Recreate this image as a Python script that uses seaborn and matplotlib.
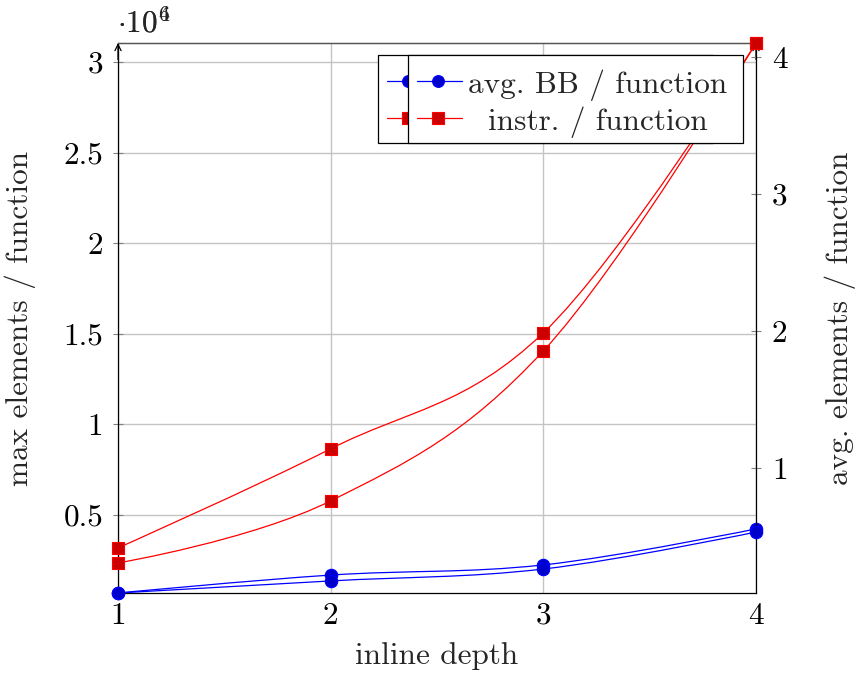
import numpy as np
import matplotlib
matplotlib.use("Agg")
import matplotlib.pyplot as plt
from matplotlib.path import Path
from matplotlib.patches import PathPatch, Rectangle
from matplotlib.lines import Line2D
import seaborn as sns

sns.set_style("white")
plt.rcParams["font.family"] = ["cmr10"]
plt.rcParams["mathtext.fontset"] = "cm"
plt.rcParams["axes.formatter.use_mathtext"] = True
plt.rcParams["axes.unicode_minus"] = False

# inline depth on the x axis
depth = [1, 2, 3, 4]

# left axis: maximum per function (x 10^4)
max_bb = [0.069, 0.168, 0.224, 0.423]
max_instr = [0.318, 0.865, 1.505, 3.105]

# right axis: average per function
avg_bb = [0.088, 0.176, 0.263, 0.533]
avg_instr = [0.307, 0.760, 1.854, 4.100]

left_ticks = [0.5, 1, 1.5, 2, 2.5, 3]
right_ticks = [1, 2, 3, 4]
x_ticks = [1, 2, 3, 4]
legend_labels = ["avg. BB / function", "instr. / function"]

BLUE, BLUE_FILL = (0, 0, 1), (0, 0, 0.8)
RED, RED_FILL = (1, 0, 0), (0.8, 0, 0)
FS = 22.5

W, H = 858, 673
fig = plt.figure(figsize=(W / 100, H / 100), dpi=100)
L, R, T, B = 118, 756, 43, 593
ax1 = fig.add_axes([L / W, (H - B) / H, (R - L) / W, (B - T) / H])
ax2 = ax1.twinx()
ax2.patch.set_visible(False)


def smooth_path(xs, ys, tension=0.55):
    """Cubic Bezier through the points, like TikZ 'smooth'."""
    p = np.column_stack([xs, ys]).astype(float)
    k = tension / 3.0
    verts = [p[0]]
    codes = [Path.MOVETO]
    n = len(p)
    for i in range(n - 1):
        c1 = p[i] + k * (p[i + 1] - p[i - 1]) if i > 0 else p[i]
        c2 = p[i + 1] - k * (p[i + 2] - p[i]) if i + 1 < n - 1 else p[i + 1]
        verts += [c1, c2, p[i + 1]]
        codes += [Path.CURVE4] * 3
    return Path(verts, codes)


def draw_series(ax, ys, line_color, fill_color, marker):
    ax.add_patch(PathPatch(smooth_path(depth, ys), fill=False,
                           edgecolor=line_color, lw=0.9, zorder=3))
    sns.scatterplot(x=depth, y=ys, ax=ax, marker=marker, s=80,
                    color=fill_color, edgecolor=line_color, linewidth=0.8,
                    zorder=4, clip_on=False, legend=False)


draw_series(ax1, max_bb, BLUE, BLUE_FILL, "o")
draw_series(ax1, max_instr, RED, RED_FILL, "s")
draw_series(ax2, avg_bb, BLUE, BLUE_FILL, "o")
draw_series(ax2, avg_instr, RED, RED_FILL, "s")

ax1.set_xlim(1, 4)
ax1.set_ylim(min(max_bb + max_instr), max(max_bb + max_instr))
ax2.set_ylim(min(avg_bb + avg_instr), max(avg_bb + avg_instr))

ax1.set_xticks(x_ticks)
ax1.set_xticklabels([f"{v:g}" for v in x_ticks])
ax1.set_yticks(left_ticks)
ax1.set_yticklabels([f"{v:g}" for v in left_ticks])
ax2.set_yticks(right_ticks)
ax2.set_yticklabels([f"{v:g}" for v in right_ticks])

ax1.grid(True, color="#c4c4c4", lw=1.0)
ax1.set_axisbelow(True)

tick_kw = dict(direction="inout", length=7, width=0.8, color="#808080",
               labelsize=FS, labelcolor="black")
ax1.tick_params(axis="x", pad=3, **tick_kw)
ax1.tick_params(axis="y", pad=7, **tick_kw)
ax2.tick_params(axis="y", pad=8, **tick_kw)

for ax in (ax1, ax2):
    for side, sp in ax.spines.items():
        sp.set_linewidth(0.9)
        sp.set_color("black")
    ax.spines["top"].set_color("#555555")
ax2.spines["left"].set_visible(False)
ax2.spines["bottom"].set_visible(False)
ax1.spines["right"].set_visible(False)

# arrow heads on the top ends of both y axes
for xa in (0, 1):
    ax1.annotate("", xy=(xa, 1.0), xytext=(xa, 0.97), xycoords="axes fraction",
                 arrowprops=dict(arrowstyle="->,head_length=0.45,head_width=0.22",
                                 lw=0.9, color="black", shrinkA=0, shrinkB=0),
                 annotation_clip=False, zorder=6)

ax1.set_xlabel("inline depth", fontsize=FS)
ax1.set_ylabel("max elements / function", fontsize=FS)
ax2.set_ylabel("avg. elements / function", fontsize=FS)
ax1.xaxis.set_label_coords(0.5, (B - 642) / (B - T))
ax1.yaxis.set_label_coords((36 - L) / (R - L), 0.5)
ax2.yaxis.set_label_coords((825 - L) / (R - L), 0.5)

# tick scale labels for both y axes share the top-left corner
for exp in ("4", "6"):
    ax1.annotate(r"$\cdot 10^{%s}$" % exp, xy=(0, 1), xycoords="axes fraction",
                 xytext=(-1, 3), textcoords="offset points", ha="left", va="bottom",
                 fontsize=FS, annotation_clip=False)


def draw_legend(ax, shift_px, z, with_text):
    fx = lambda px: (px - shift_px - L) / (R - L)
    fy = lambda py: (B - py) / (B - T)
    ax.add_patch(Rectangle((fx(408), fy(143)), fx(743) - fx(408), fy(55) - fy(143),
                           transform=ax.transAxes, facecolor="white",
                           edgecolor="black", lw=0.9, zorder=z, clip_on=False))
    rows = [(81, BLUE, BLUE_FILL, "o"), (118, RED, RED_FILL, "s")]
    for (py, lc, fc, mk), text in zip(rows, legend_labels):
        ax.add_line(Line2D([fx(417), fx(462)], [fy(py), fy(py)],
                           transform=ax.transAxes, color=lc, lw=0.9,
                           zorder=z + 1, clip_on=False))
        ax.add_line(Line2D([fx(438)], [fy(py)], transform=ax.transAxes,
                           marker=mk, markersize=8.5, markerfacecolor=fc,
                           markeredgecolor=lc, markeredgewidth=0.8, ls="none",
                           zorder=z + 2, clip_on=False))
        if with_text:
            ax.text(fx(598), fy(py), text, transform=ax.transAxes, ha="center",
                    va="center_baseline", fontsize=FS, zorder=z + 2)


# the legend of the left axis sits behind the one of the right axis
draw_legend(ax1, 30, 10, with_text=False)
draw_legend(ax2, 0, 20, with_text=True)

fig.savefig("out.png", dpi=100)
